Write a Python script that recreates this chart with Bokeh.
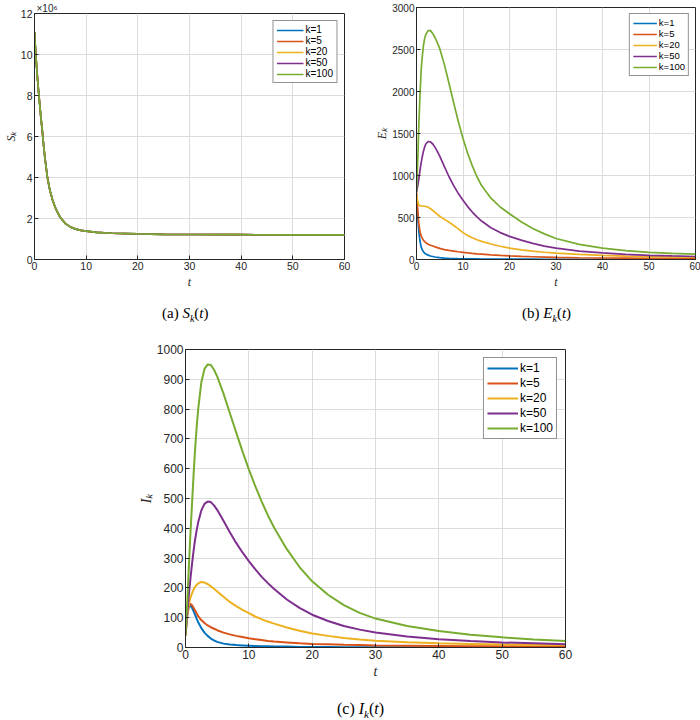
from bokeh.plotting import figure
from bokeh.models import Range1d, FixedTicker, Legend, LegendItem, Title, Div, Spacer
from bokeh.layouts import column, row
from bokeh.embed import file_html
from bokeh.resources import INLINE

# ---------------- data ----------------
k_labels = ["k=1", "k=5", "k=20", "k=50", "k=100"]
colors = ["#0072BD", "#D95319", "#EDB120", "#7E2F8E", "#77AC30"]

x_ticks = [0, 10, 20, 30, 40, 50, 60]

# (a) S_k(t) -- all k curves coincide
t_s = [0, 0.25, 0.5, 0.75, 1, 1.25, 1.5, 1.75, 2, 2.5, 3, 3.5, 4, 4.5, 5, 6, 7, 8, 9, 10, 12, 15, 20, 25, 30, 40, 50, 60]
s_k = [11.1e6, 10.0e6, 9.1e6, 8.3e6, 7.6e6, 6.9e6, 6.3e6, 5.6e6, 5.0e6, 4.0e6, 3.35e6, 2.9e6, 2.55e6, 2.27e6, 2.05e6,
       1.75e6, 1.58e6, 1.48e6, 1.42e6, 1.38e6, 1.32e6, 1.28e6, 1.25e6, 1.23e6, 1.22e6, 1.21e6, 1.2e6, 1.2e6]
s_ticks = [0, 2000000, 4000000, 6000000, 8000000, 10000000, 12000000]
s_tick_labels = ["0", "2", "4", "6", "8", "10", "12"]

# common time grid for (b) and (c)
t_grid = [0, 0.25, 0.5, 0.75, 1, 1.25, 1.5, 1.75, 2, 2.5, 3, 3.5, 4, 4.5, 5, 6, 7, 8, 9, 10, 11, 12, 13, 14,
          16, 18, 20, 22.5, 25, 27.5, 30, 35, 40, 45, 50, 55, 60]

# (b) E_k(t)
e_k1 = [790, 520, 330, 220, 150, 115, 92, 76, 65, 52, 42, 36, 30, 26, 22, 17, 14, 12, 10, 9, 8, 7, 7, 6,
        6, 5, 5, 4, 4, 3, 3, 3, 2, 2, 2, 2, 2]
e_k5 = [790, 600, 430, 330, 280, 252, 230, 213, 200, 182, 170, 160, 150, 141, 132, 118, 108, 100, 92, 85, 78, 72, 67, 63,
        55, 48, 42, 37, 33, 29, 25, 21, 18, 16, 14, 13, 12]
e_k20 = [790, 690, 645, 640, 638, 637, 635, 634, 632, 622, 605, 583, 560, 538, 515, 478, 445, 405, 365, 320, 285, 258, 236, 216,
         185, 158, 135, 115, 100, 86, 75, 60, 48, 41, 35, 31, 28]
e_k50 = [800, 870, 960, 1060, 1150, 1225, 1290, 1340, 1375, 1405, 1400, 1375, 1335, 1285, 1230, 1105, 985, 880, 785, 705, 630, 565, 508, 458,
         378, 320, 275, 230, 192, 160, 135, 100, 78, 62, 50, 42, 36]
e_k100 = [800, 1150, 1600, 1950, 2250, 2420, 2550, 2630, 2680, 2725, 2725, 2690, 2640, 2580, 2510, 2320, 2095, 1865, 1640, 1440, 1265, 1115, 985, 880,
          730, 625, 545, 450, 370, 305, 250, 180, 135, 105, 85, 72, 63]
e_ticks = [0, 500, 1000, 1500, 2000, 2500, 3000]

# (c) I_k(t)
i_k1 = [40, 105, 135, 140, 135, 123, 110, 97, 85, 65, 50, 39, 30, 24, 19, 13, 10, 8, 7, 6, 5, 4, 4, 3,
        3, 2, 2, 2, 1, 1, 1, 1, 1, 1, 1, 1, 1]
i_k5 = [40, 110, 140, 146, 143, 134, 125, 115, 105, 92, 82, 74, 68, 63, 58, 50, 44, 39, 35, 31, 28, 25, 22, 20,
        17, 14, 12, 10.5, 9, 8, 7, 6, 5, 4, 4, 3, 3]
i_k20 = [40, 100, 140, 165, 180, 193, 203, 210, 215, 220, 218, 213, 205, 197, 188, 170, 153, 139, 126, 115, 104, 95, 87, 80,
         67, 56, 47, 39, 32, 27, 23, 18, 14, 12, 10, 9, 8]
i_k50 = [45, 110, 170, 225, 275, 320, 360, 392, 420, 460, 482, 490, 488, 477, 462, 425, 387, 351, 319, 290, 263, 238, 216, 196,
         161, 133, 110, 89, 72, 60, 50, 37, 28, 22, 17, 14, 11]
i_k100 = [45, 140, 255, 370, 470, 570, 660, 735, 800, 890, 935, 950, 948, 932, 910, 852, 787, 722, 658, 598, 542, 491, 444, 402,
          330, 270, 222, 177, 142, 116, 97, 72, 55, 43, 34, 27, 22]
i_ticks = [0, 100, 200, 300, 400, 500, 600, 700, 800, 900, 1000]

DARK = "#262626"
GRID = "#dcdcdc"


def make_fig(width, height, y_max, borders, tick_fs, lab_fs, ylabel, xticks, yticks):
    left, right, top, bottom = borders
    p = figure(width=width, height=height, x_range=Range1d(0, 60), y_range=Range1d(0, y_max),
               output_backend="svg", toolbar_location=None,
               min_border_left=left, min_border_right=right,
               min_border_top=top, min_border_bottom=bottom)
    p.background_fill_color = "white"
    p.border_fill_color = "white"
    p.outline_line_color = DARK
    p.outline_line_width = 1
    p.xaxis.ticker = FixedTicker(ticks=xticks)
    p.yaxis.ticker = FixedTicker(ticks=yticks)
    for ax in (p.xaxis[0], p.yaxis[0]):
        ax.major_tick_in = 4
        ax.major_tick_out = 0
        ax.minor_tick_line_color = None
        ax.axis_line_color = DARK
        ax.major_tick_line_color = DARK
        ax.major_label_text_font = "Liberation Sans"
        ax.major_label_text_color = DARK
        ax.major_label_text_font_size = tick_fs
        ax.major_label_standoff = 2
        ax.axis_label_text_font = "Liberation Serif"
        ax.axis_label_text_font_style = "italic"
        ax.axis_label_text_font_size = lab_fs
        ax.axis_label_text_color = DARK
        ax.axis_label_standoff = 0
    p.xaxis.axis_label = "t"
    p.yaxis.axis_label = ylabel
    p.xaxis.axis_label_standoff = 2
    p.xgrid.grid_line_color = GRID
    p.ygrid.grid_line_color = GRID
    return p


def add_lines(p, t, series, lw, leg_fs, glyph_w, row_h, spacing, margin):
    items = []
    for lab, col, ys in zip(k_labels, colors, series):
        r = p.line(t, ys, line_color=col, line_width=lw)
        items.append(LegendItem(label=lab, renderers=[r]))
    leg = Legend(items=items, location="top_right")
    leg.border_line_color = DARK
    leg.border_line_width = 1
    leg.background_fill_color = "white"
    leg.background_fill_alpha = 1
    leg.label_text_font = "Liberation Sans"
    leg.label_text_font_size = leg_fs
    leg.label_text_color = "#000000"
    leg.glyph_width = glyph_w
    leg.glyph_height = row_h
    leg.label_height = row_h
    leg.label_standoff = 2
    leg.spacing = spacing
    leg.padding = 3
    leg.margin = margin
    p.add_layout(leg)


# (a)
pa = make_fig(350, 300, 12e6, (31, 6, 12, 41), "10.5px", "12px", "Sₖ", x_ticks, s_ticks)
pa.yaxis.major_label_overrides = dict(zip(s_ticks, s_tick_labels))
pa.add_layout(Title(text="×10⁶", align="left", offset=2, standoff=0, text_font="Liberation Sans",
                    text_font_size="10px", text_font_style="normal", text_color=DARK), "above")
add_lines(pa, t_s, [s_k] * 5, 1.7, "10px", 27, 10, 0, 7)

# (b)
pb = make_fig(350, 300, 3000, (66, 5, 7, 41), "10px", "12px", "Eₖ", x_ticks, e_ticks)
add_lines(pb, t_grid, [e_k1, e_k5, e_k20, e_k50, e_k100], 1.7, "9.5px", 24, 10, 0, 6)

# (c)
pc = make_fig(438, 341, 1000, (47, 8, 6, 37), "12px", "14px", "Iₖ", x_ticks, i_ticks)
add_lines(pc, t_grid, [i_k1, i_k5, i_k20, i_k50, i_k100], 2, "12px", 31, 12, 1, 8)


def caption(letter, sym, width, height, pad_left, pad_top, fs):
    html = (f'<div style="padding-left:{pad_left}px; padding-top:{pad_top}px; '
            f'font-family:\'Liberation Serif\'; font-size:{fs}px; line-height:18px; color:#000; white-space:nowrap;">'
            f'({letter})&nbsp;<i>{sym}<sub style="font-size:{int(fs*0.7)}px; line-height:0;">k</sub></i>(<i>t</i>)</div>')
    return Div(text=html, width=width, height=height, margin=(0, 0, 0, 0))


cap_a = caption("a", "S", 350, 43, 162, 4, 15)
cap_b = caption("b", "E", 350, 43, 172, 4, 15)
cap_c = caption("c", "I", 438, 34, 202, 16, 16)

top = row(column(pa, cap_a), column(pb, cap_b))
bottom = row(Spacer(width=135, height=375), column(pc, cap_c))
layout = column(top, bottom)

open("out.html", "w").write(file_html(layout, INLINE))
